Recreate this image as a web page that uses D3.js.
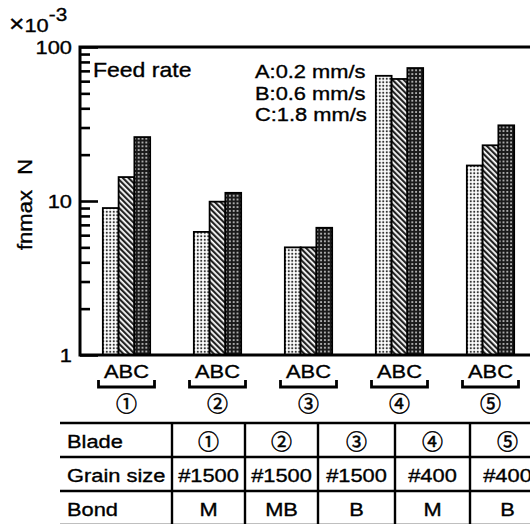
<!DOCTYPE html>
<html>
<head>
<meta charset="utf-8">
<script src="https://cdn.jsdelivr.net/npm/d3@7"></script>
<style>
  body { margin: 0; background: #fff; }
  svg { display: block; font-family: "Liberation Sans", Arial, Helvetica, sans-serif; }
  svg text { stroke: #000; stroke-width: 0.35px; }
  .circ { font-family: "Noto Sans CJK JP", "DejaVu Sans", sans-serif; stroke-width: 0.5px; }
</style>
</head>
<body>
<svg width="530" height="524"></svg>
<script>
// data (values x10^-3 N)
var groups = ['①', '②', '③', '④', '⑤'];
var feeds = ['A', 'B', 'C'];
var valuesA = [9.0, 6.3, 5.0, 65, 17];
var valuesB = [14.3, 9.9, 5.0, 62, 23];
var valuesC = [26, 11.3, 6.7, 73, 31];
var feedLabels = ['A:0.2 mm/s', 'B:0.6 mm/s', 'C:1.8 mm/s'];
var rowLabels = ['Blade', 'Grain size', 'Bond'];
var grainSizes = ['#1500', '#1500', '#1500', '#400', '#400'];
var bonds = ['M', 'MB', 'B', 'M', 'B'];

var data = [];
groups.forEach(function(g, i) {
    data.push({ group: g, feed: 'A', value: valuesA[i] });
    data.push({ group: g, feed: 'B', value: valuesB[i] });
    data.push({ group: g, feed: 'C', value: valuesC[i] });
});

var svg = d3.select('svg');
var SX = 1.15;   // the scan's lettering is a bit wider than Liberation Sans

function label(parent, x, y, str, anchor, size) {
    return parent.append('text')
        .attr('transform', 'translate(' + x + ',' + y + ') scale(' + SX + ',1)')
        .attr('text-anchor', anchor || 'start')
        .attr('font-size', size || 18)
        .text(str);
}

// **** patterns ****
var defs = svg.append('defs');

var pA = defs.append('pattern').attr('id', 'patA')
    .attr('patternUnits', 'userSpaceOnUse').attr('width', 3.5).attr('height', 3.5);
pA.append('rect').attr('width', 3.5).attr('height', 3.5).attr('fill', '#fff');
pA.append('circle').attr('cx', 1.75).attr('cy', 1.75).attr('r', 1.1).attr('fill', '#333');

var pB = defs.append('pattern').attr('id', 'patB')
    .attr('patternUnits', 'userSpaceOnUse').attr('width', 4).attr('height', 4)
    .attr('patternTransform', 'rotate(-45)');
pB.append('rect').attr('width', 4).attr('height', 4).attr('fill', '#fff');
pB.append('rect').attr('width', 2.2).attr('height', 4).attr('fill', '#222');

var pC = defs.append('pattern').attr('id', 'patC')
    .attr('patternUnits', 'userSpaceOnUse').attr('width', 3.8).attr('height', 3.8);
pC.append('rect').attr('width', 3.8).attr('height', 3.8).attr('fill', '#1a1a1a');
pC.append('circle').attr('cx', 1.9).attr('cy', 1.9).attr('r', 0.95).attr('fill', '#ddd');

var fills = { A: 'url(#patA)', B: 'url(#patB)', C: 'url(#patC)' };

// **** scales ****
var plotLeft = 80, plotRight = 545, plotTop = 47, plotBottom = 355;

var x = d3.scaleBand().domain(groups).range([81, 536])
    .paddingInner(0.48).paddingOuter(0.24);
var xf = d3.scaleBand().domain(feeds).range([0, x.bandwidth()]);
var y = d3.scaleLog().domain([1, 100]).range([plotBottom, plotTop]);

// **** bars ****
svg.append('g').selectAll('rect')
    .data(data)
    .enter()
    .append('rect')
    .attr('x', function(d) { return x(d.group) + xf(d.feed); })
    .attr('y', function(d) { return y(d.value); })
    .attr('width', xf.bandwidth())
    .attr('height', function(d) { return plotBottom - y(d.value); })
    .attr('fill', function(d) { return fills[d.feed]; })
    .attr('stroke', '#000')
    .attr('stroke-width', 1.8);

// **** axis + frame ****
var isMajor = function(d) { return Math.abs(Math.log10(d) % 1) < 1e-9; };

var yAxis = svg.append('g')
    .attr('transform', 'translate(' + plotLeft + ',0)')
    .call(d3.axisLeft(y).tickValues(y.ticks()).tickSize(-9).tickPadding(7)
        .tickFormat(function(d) { return isMajor(d) ? d : ''; }));
yAxis.select('.domain').remove();
yAxis.selectAll('.tick line').attr('stroke-width', 2.6)
    .attr('x2', function(d) { return isMajor(d) ? 18 : 10; });
yAxis.selectAll('.tick text')
    .attr('font-size', 19)
    .attr('fill', '#000')
    .attr('transform', 'scale(' + SX + ',1)');
yAxis.attr('font-family', null);

svg.append('path')
    .attr('d', 'M' + plotRight + ',' + plotTop + 'H' + plotLeft + 'V' + plotBottom + 'H' + plotRight)
    .attr('fill', 'none').attr('stroke', '#000').attr('stroke-width', 3);

// ×10^-3
var mult = svg.append('text')
    .attr('transform', 'translate(9,32) scale(' + SX + ',1)')
    .attr('font-size', 19);
mult.append('tspan').attr('font-size', 23).text('×');
mult.append('tspan').text('10');
mult.append('tspan').attr('dy', -11).attr('font-size', 18).text('-3');

// y axis title
var yt = svg.append('text')
    .attr('transform', 'translate(32,250) rotate(-90) scale(1.1,1)')
    .attr('font-size', 20)
    .text('fnmax');
yt.append('tspan').attr('dx', 14).text('N');

// legend
label(svg, 93, 77, 'Feed rate', 'start', 20);
feedLabels.forEach(function(t, i) {
    label(svg, 255, 78 + i * 21.5, t, 'start', 19);
});

// **** group labels under the axis ****
var gl = svg.append('g').selectAll('g')
    .data(groups)
    .enter()
    .append('g')
    .attr('transform', function(d) { return 'translate(' + (x(d) + x.bandwidth() / 2) + ',0)'; });

gl.each(function(d) {
    label(d3.select(this), 0, 378, feeds.join(''), 'middle', 19);
});
gl.append('path')
    .attr('d', 'M-28,380V387H28V380')
    .attr('fill', 'none').attr('stroke', '#000').attr('stroke-width', 2.8);
gl.append('text')
    .attr('class', 'circ')
    .attr('y', 411)
    .attr('text-anchor', 'middle')
    .attr('font-size', 21)
    .text(function(d) { return d; });

// **** table ****
var colEdges = [60, 172, 245, 318, 395, 470, 545];
var rowEdges = [423, 457, 491, 525];
var tbl = svg.append('g');

rowEdges.forEach(function(ry) {
    tbl.append('line').attr('x1', colEdges[0]).attr('x2', 545)
        .attr('y1', ry).attr('y2', ry)
        .attr('stroke', '#000').attr('stroke-width', 2.4);
});
colEdges.slice(1, -1).forEach(function(cx) {
    tbl.append('line').attr('x1', cx).attr('x2', cx)
        .attr('y1', rowEdges[0]).attr('y2', 530)
        .attr('stroke', '#000').attr('stroke-width', 2.4);
});

rowLabels.forEach(function(t, r) {
    label(tbl, 67, rowEdges[r] + 25, t, 'start', 19);
});

var rows = [groups, grainSizes, bonds];
rows.forEach(function(vals, r) {
    vals.forEach(function(v, c) {
        var cx = (colEdges[c + 1] + colEdges[c + 2]) / 2;
        if (r === 0) {
            tbl.append('text').attr('class', 'circ')
                .attr('x', cx).attr('y', rowEdges[r] + 26)
                .attr('text-anchor', 'middle').attr('font-size', 21)
                .text(v);
        } else {
            label(tbl, cx, rowEdges[r] + 25, v, 'middle', 19);
        }
    });
});
</script>
</body>
</html>
